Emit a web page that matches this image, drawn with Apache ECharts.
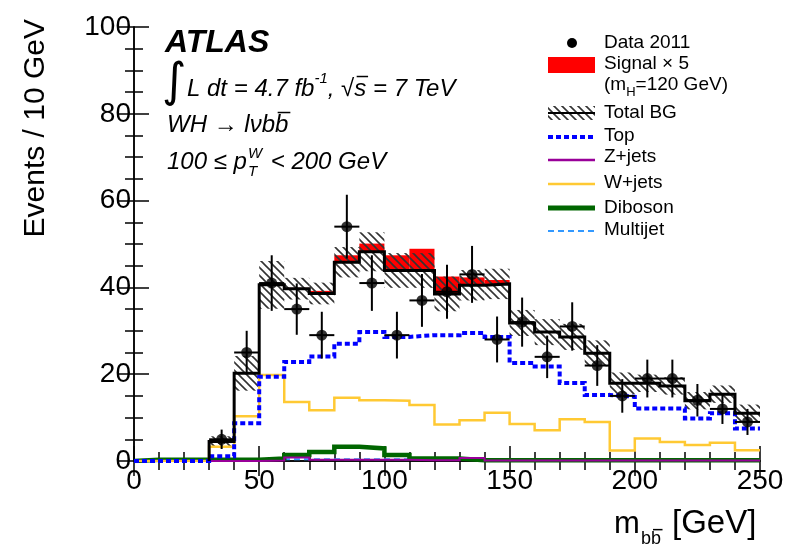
<!DOCTYPE html>
<html>
<head>
<meta charset="utf-8">
<script src="https://cdn.jsdelivr.net/npm/echarts@6/dist/echarts.min.js"></script>
<style>
  html, body { margin: 0; padding: 0; background: #fff; }
  #chart { width: 790px; height: 552px; }
</style>
</head>
<body>
<div id="chart"></div>
<script>
// m_bb distribution, 10 GeV bins from 0 to 250 GeV
const binWidth = 10;
const binLow = [0, 10, 20, 30, 40, 50, 60, 70, 80, 90, 100, 110, 120, 130, 140, 150, 160, 170, 180, 190, 200, 210, 220, 230, 240];

// Observed events (2011 data)
const dataCounts = [null, null, null, 5, 25, 41, 35, 29, 54, 41, 29, 37, 39, 43, 28, 32, 24, 31, 22, 15, 19, 19, 14, 12, 9];

// Total background and its uncertainty
const totalBG = [null, null, null, 4.5, 20.2, 40.6, 39.7, 38.6, 45.8, 48.2, 43.9, 43.9, 38.5, 40.5, 40.8, 31.8, 29.7, 28.6, 24.8, 17.9, 17.9, 17.3, 13.9, 15.4, 11.0];
const totalBGErr = [null, null, null, 1.2, 4, 5.5, 2.5, 2.5, 3.5, 4.5, 4, 4, 4, 3.5, 3.5, 3, 3, 3, 3, 2.5, 2, 2, 2, 2, 2];

// Signal x 5 (mH = 120 GeV), stacked on the total background
const signalX5 = [0, 0, 0, 0, 0, 0, 0.2, 0.6, 1.6, 1.9, 3.5, 5.0, 4.0, 1.8, 0.9, 0.2, 0, 0, 0, 0, 0, 0, 0, 0, 0];

// Individual background components
const topBG = [0, 0, 0, 1.1, 8.7, 19.4, 22.8, 24.1, 27.0, 29.7, 28.6, 29.0, 29.0, 29.5, 28.6, 22.6, 21.8, 18.0, 15.2, 14.8, 12.1, 12.1, 9.8, 11.0, 7.5];
const zjetsBG = [0, 0, 0, 0, 0, 0.1, 0.8, 0.3, 0.3, 0.3, 0.3, 0.2, 0.2, 0.7, 0.1, 0.1, 0.1, 0.1, 0.1, 0.1, 0.1, 0.1, 0.1, 0.1, 0.1];
const wjetsBG = [0, 0, 0, 3.3, 10.3, 19.8, 13.6, 11.7, 14.6, 14.0, 13.9, 12.9, 8.4, 9.4, 11.1, 8.5, 7.1, 9.6, 9.0, 2.4, 5.2, 4.4, 3.7, 4.2, 2.5];
const dibosonBG = [0.3, 0.3, 0.3, 0.3, 0.3, 0.6, 1.4, 2.1, 3.3, 2.9, 1.4, 0.6, 0.6, 0.2, 0.2, 0.2, 0.2, 0.2, 0.2, 0.2, 0.2, 0.2, 0.2, 0.2, 0.2];
const multijetBG = [0.4, 0.4, 0.4, 0.4, 0.4, 0.4, 0.4, 0.4, 0.4, 0.4, 0.4, 0.4, 0.4, 0.4, 0.4, 0.4, 0.4, 0.4, 0.4, 0.4, 0.4, 0.4, 0.4, 0.4, 0.4];

// Axis ticks
const xTicks = [0, 50, 100, 150, 200, 250];
const yTicks = [0, 20, 40, 60, 80, 100];

const FONT = '"Liberation Sans", Arial, Helvetica, sans-serif';
const COL = {
  signal: '#ff0000',
  top: '#0000ff',
  zjets: '#990099',
  wjets: '#ffc933',
  diboson: '#006600',
  multijet: '#3399ff'
};

// Diagonal hatch tile for the background uncertainty band
function hatchTile() {
  const c = document.createElement('canvas');
  c.width = 8; c.height = 8;
  const g = c.getContext('2d');
  g.strokeStyle = '#333';
  g.lineWidth = 1.6;
  g.beginPath();
  g.moveTo(0, 0); g.lineTo(8, 8);
  g.moveTo(-4, 4); g.lineTo(4, 12);
  g.moveTo(4, -4); g.lineTo(12, 4);
  g.stroke();
  return c;
}
const hatchFill = { image: hatchTile(), repeat: 'repeat' };

// Histogram outline as step points: rise from zero at the first filled bin edge
function stepPoints(values) {
  const pts = [];
  let first = -1, last = -1;
  values.forEach((v, i) => { if (v != null) { if (first < 0) first = i; last = i; } });
  pts.push([binLow[first], 0]);
  for (let i = first; i <= last; i++) pts.push([binLow[i], values[i]]);
  pts.push([binLow[last] + binWidth, values[last]]);
  return pts;
}

function histLine(name, values, color, width, type, z) {
  return {
    name, type: 'line', step: 'end', data: stepPoints(values),
    symbol: 'none', showSymbol: false, z, clip: true,
    lineStyle: { color, width, type: type || 'solid', cap: 'butt', join: 'miter' },
    emphasis: { disabled: true }, animation: false
  };
}

const signalRects = [];
const bandRects = [];
binLow.forEach((lo, i) => {
  if (totalBG[i] == null) return;
  if (signalX5[i] > 0) signalRects.push([lo, lo + binWidth, totalBG[i], totalBG[i] + signalX5[i]]);
  bandRects.push([lo, lo + binWidth, totalBG[i] - totalBGErr[i], totalBG[i] + totalBGErr[i]]);
});
const dataPoints = [];
binLow.forEach((lo, i) => {
  if (dataCounts[i] != null) dataPoints.push([lo + binWidth / 2, dataCounts[i]]);
});

function rectRenderer(fill) {
  return function (params, api) {
    const p1 = api.coord([api.value(0), api.value(3)]);
    const p2 = api.coord([api.value(1), api.value(2)]);
    return {
      type: 'rect',
      shape: { x: p1[0], y: p1[1], width: p2[0] - p1[0], height: p2[1] - p1[1] },
      style: { fill: fill, stroke: null }
    };
  };
}

// Text layout helper for labels with sub/superscripts and overlines
const meas = document.createElement('canvas').getContext('2d');
function textRuns(x, cy, parts) {
  const els = [];
  let cx = x;
  parts.forEach(p => {
    const size = p.size || 24;
    const fam = p.family || FONT;
    const font = (p.italic === false ? 'normal' : 'italic') + ' ' + (p.bold ? 'bold' : 'normal') + ' ' + size + 'px ' + fam;
    meas.font = font;
    const w = meas.measureText(p.t).width;
    const px = cx;
    const y = cy + (p.dy || 0);
    els.push({ type: 'text', x: px, y: y, silent: true,
      style: { text: p.t, font: font, fill: '#000', align: 'left', verticalAlign: 'middle' } });
    if (p.over) {
      els.push({ type: 'line', silent: true,
        shape: { x1: px + w * 0.2, y1: y - size * 0.52, x2: px + w + w * 0.15, y2: y - size * 0.52 },
        style: { stroke: '#000', lineWidth: 1.5 } });
    }
    cx = px + w;
  });
  return { els, end: cx };
}

const graphics = [];

// Experiment label and selection text
graphics.push(...textRuns(165, 43, [{ t: 'ATLAS', size: 32, bold: true }]).els);
graphics.push({ type: 'text', x: 162, y: 84, silent: true,
  style: { text: '\u222B', font: 'normal 47px "DejaVu Sans", sans-serif', fill: '#000', align: 'left', verticalAlign: 'middle' } });
graphics.push(...textRuns(187, 89, [
  { t: 'L dt = 4.7 fb', size: 24 },
  { t: '-1', size: 15, dy: -10 },
  { t: ', ', size: 24 },
  { t: '\u221A', size: 24, italic: false },
  { t: 's', size: 24, over: true },
  { t: ' = 7 TeV', size: 24 }
]).els);
graphics.push(...textRuns(167, 125, [
  { t: 'WH \u2192 l\u03BDb', size: 24 },
  { t: 'b', size: 24, over: true }
]).els);
(function () {
  const a = textRuns(167, 162, [{ t: '100 \u2264 p', size: 24 }]);
  graphics.push(...a.els);
  const w = textRuns(a.end + 1, 154, [{ t: 'W', size: 15 }]);
  const t = textRuns(a.end + 1, 172, [{ t: 'T', size: 15 }]);
  graphics.push(...w.els, ...t.els);
  graphics.push(...textRuns(Math.max(w.end, t.end) + 2, 162, [{ t: ' < 200 GeV', size: 24 }]).els);
})();

// Legend
const LX0 = 548, LX1 = 595, LT = 604;
function legendText(t, y) {
  return { type: 'text', x: LT, y: y, silent: true,
    style: { text: t, font: 'normal 19px ' + FONT, fill: '#000', align: 'left', verticalAlign: 'middle' } };
}
function legendLine(y, color, width, dash) {
  return { type: 'line', silent: true, shape: { x1: LX0, y1: y, x2: LX1, y2: y },
    style: { stroke: color, lineWidth: width, lineDash: dash || null, lineCap: 'butt' } };
}
graphics.push(
  { type: 'circle', silent: true, shape: { cx: 572, cy: 43, r: 5 }, style: { fill: '#000' } },
  legendText('Data 2011', 43),
  { type: 'rect', silent: true, shape: { x: LX0, y: 57, width: LX1 - LX0, height: 16 }, style: { fill: COL.signal } },
  legendText('Signal \u00D7 5', 64),
  ...textRuns(LT, 85, [
    { t: '(m', size: 19, italic: false },
    { t: 'H', size: 13, italic: false, dy: 7 },
    { t: '=120 GeV)', size: 19, italic: false }
  ]).els,
  { type: 'rect', silent: true, shape: { x: LX0, y: 106, width: LX1 - LX0, height: 14 }, style: { fill: hatchFill } },
  legendLine(113, '#000', 2),
  legendText('Total BG', 113),
  legendLine(137, COL.top, 4, [5, 3]),
  legendText('Top', 136),
  legendLine(160, COL.zjets, 2.5),
  legendText('Z+jets', 157),
  legendLine(184, COL.wjets, 2.5),
  legendText('W+jets', 183),
  legendLine(208, COL.diboson, 5),
  legendText('Diboson', 208),
  legendLine(231, COL.multijet, 2, [6, 4]),
  legendText('Multijet', 230)
);

// Axis titles
graphics.push({ type: 'text', x: 36, y: 19, rotation: Math.PI / 2, silent: true,
  style: { text: 'Events / 10 GeV', font: 'normal 30px ' + FONT, fill: '#000', align: 'right', verticalAlign: 'middle' } });
graphics.push(...textRuns(614, 524, [{ t: 'm', size: 31, italic: false }]).els);
graphics.push(...textRuns(641, 539, [
  { t: 'b', size: 18, italic: false },
  { t: 'b', size: 18, italic: false, over: true }
]).els);
graphics.push(...textRuns(672, 524, [{ t: '[GeV]', size: 33, italic: false }]).els);

const axisCommon = {
  type: 'value', min: 0,
  axisLine: { show: true, lineStyle: { color: '#000', width: 1.5 } },
  axisTick: { show: true, inside: true, length: 15, lineStyle: { color: '#000', width: 1.5 } },
  minorTick: { show: true, length: 9, lineStyle: { color: '#000', width: 1.5 } },
  splitLine: { show: false },
  axisLabel: { color: '#000', fontFamily: FONT, fontSize: 28 }
};

const option = {
  animation: false,
  backgroundColor: '#fff',
  grid: { left: 134, right: 30, top: 27, bottom: 91, containLabel: false },
  xAxis: [
    Object.assign({}, axisCommon, { position: 'bottom', max: xTicks[xTicks.length - 1], interval: xTicks[1] - xTicks[0],
      minorTick: Object.assign({}, axisCommon.minorTick, { splitNumber: 5 }),
      axisLabel: Object.assign({}, axisCommon.axisLabel, { margin: 6 }) }),
    Object.assign({}, axisCommon, { position: 'top', max: xTicks[xTicks.length - 1], interval: xTicks[1] - xTicks[0],
      minorTick: Object.assign({}, axisCommon.minorTick, { splitNumber: 5 }),
      axisLabel: { show: false } })
  ],
  yAxis: [
    Object.assign({}, axisCommon, { position: 'left', max: yTicks[yTicks.length - 1], interval: yTicks[1] - yTicks[0],
      minorTick: Object.assign({}, axisCommon.minorTick, { splitNumber: 4 }),
      axisLabel: Object.assign({}, axisCommon.axisLabel, { margin: 3 }) }),
    Object.assign({}, axisCommon, { position: 'right', max: yTicks[yTicks.length - 1], interval: yTicks[1] - yTicks[0],
      minorTick: Object.assign({}, axisCommon.minorTick, { splitNumber: 4 }),
      axisLabel: { show: false } })
  ],
  graphic: graphics,
  series: [
    { name: 'Signal x 5', type: 'custom', data: signalRects, encode: { x: [0, 1], y: [2, 3] },
      renderItem: rectRenderer(COL.signal), z: 1, clip: true, silent: true },
    { name: 'Total BG uncertainty', type: 'custom', data: bandRects, encode: { x: [0, 1], y: [2, 3] },
      renderItem: rectRenderer(hatchFill), z: 2, clip: true, silent: true },
    histLine('Multijet', multijetBG, COL.multijet, 2, [6, 4], 3),
    histLine('Diboson', dibosonBG, COL.diboson, 4.5, 'solid', 3),
    histLine('Z+jets', zjetsBG, COL.zjets, 2, 'solid', 3),
    histLine('W+jets', wjetsBG, COL.wjets, 2.5, 'solid', 3),
    histLine('Top', topBG, COL.top, 4, [5, 3], 4),
    histLine('Total BG', totalBG, '#000', 3, 'solid', 5),
    { name: 'Data 2011 errors', type: 'custom', data: dataPoints, encode: { x: 0, y: 1 }, z: 6, clip: true, silent: true,
      renderItem: function (params, api) {
        const x = api.value(0), y = api.value(1), e = Math.sqrt(y);
        const t = api.coord([x, y + e]), b = api.coord([x, y - e]);
        const l = api.coord([x - binWidth / 2, y]), r = api.coord([x + binWidth / 2, y]);
        return { type: 'group', children: [
          { type: 'line', shape: { x1: t[0], y1: t[1], x2: b[0], y2: b[1] }, style: { stroke: '#000', lineWidth: 2 } },
          { type: 'line', shape: { x1: l[0], y1: l[1], x2: r[0], y2: r[1] }, style: { stroke: '#000', lineWidth: 2 } }
        ] };
      } },
    { name: 'Data 2011', type: 'scatter', data: dataPoints, symbol: 'circle', symbolSize: 11, z: 7,
      itemStyle: { color: '#000' }, silent: true }
  ]
};

const chart = echarts.init(document.getElementById('chart'), null, { renderer: 'canvas' });
chart.setOption(option);
</script>
</body>
</html>
